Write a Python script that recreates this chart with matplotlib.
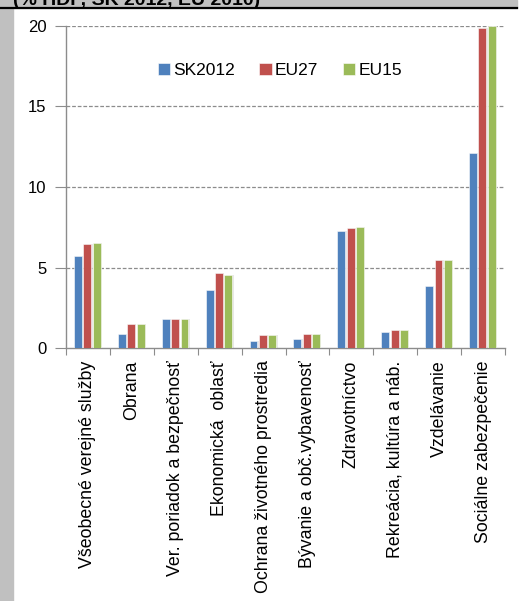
import numpy as np
import matplotlib
matplotlib.use("Agg")
import matplotlib.pyplot as plt
from matplotlib.patches import Rectangle

plt.rcParams["font.family"] = ["Liberation Sans", "DejaVu Sans"]

categories = [
    "Všeobecné verejné služby", "Obrana", "Ver. poriadok a bezpečnosť",
    "Ekonomická  oblasť", "Ochrana životného prostredia",
    "Bývanie a obč.vybavenosť", "Zdravotníctvo", "Rekreácia, kultúra a náb.",
    "Vzdelávanie", "Sociálne zabezpečenie",
]
series_names = ["SK2012", "EU27", "EU15"]
sk2012 = [5.7, 0.9, 1.8, 3.6, 0.45, 0.55, 7.25, 1.0, 3.85, 12.1]
eu27 = [6.45, 1.5, 1.8, 4.65, 0.8, 0.9, 7.45, 1.1, 5.45, 19.9]
eu15 = [6.5, 1.5, 1.8, 4.55, 0.8, 0.9, 7.5, 1.1, 5.45, 20.0]
colors = ["#4F81BD", "#C0504D", "#9BBB59"]
title = "(% HDP, SK 2012, EÚ 2010)"

W, H = 519, 601
fig = plt.figure(figsize=(W / 100, H / 100), dpi=100)

# gray frame: header band + left strip
fig.patches.append(Rectangle((0, 1 - 7.5 / H), 517 / W, 7.5 / H,
                             transform=fig.transFigure, color="#C0C0C0", zorder=0))
fig.patches.append(Rectangle((0, 0), 12.5 / W, 1, transform=fig.transFigure,
                             color="#C0C0C0", zorder=0))
fig.add_artist(plt.Line2D([0, 517 / W], [1 - 8 / H, 1 - 8 / H],
                          transform=fig.transFigure, color="black", lw=1.6))
# header title sits mostly above the top edge
fig.text(13 / W, 1 - 5 / H, title, fontsize=14, fontweight="bold",
         va="baseline", ha="left")

ax = fig.add_axes([66 / W, 1 - 348 / H, 439 / W, 322 / H])
x = np.arange(1, len(categories) + 1)
width = 0.18
offsets = [-0.23, -0.015, 0.2]
for vals, off, c, name in zip([sk2012, eu27, eu15], offsets, colors, series_names):
    # faint drop shadow behind each bar
    ax.bar(x + off + 0.03, vals, width, color="#d9d9d9", zorder=2, alpha=0.6)
    ax.bar(x + off, vals, width, color=c, edgecolor="white", linewidth=0.4,
           label=name, zorder=3)

ax.set_xlim(0.5, len(categories) + 0.5)
ax.set_ylim(0, 20)
ax.set_yticks([0, 5, 10, 15, 20])
for v in [5, 10, 15, 20]:
    ax.axhline(v, color="#8c8c8c", lw=0.9, ls=(0, (3, 1.5)), zorder=1)

ax.set_xticks(np.arange(0.5, len(categories) + 1, 1.0))
ax.set_xticklabels([])
ax.set_xticks(x, minor=True)
ax.set_xticklabels(categories, minor=True, rotation=90, fontsize=12.8,
                   va="top", ha="center")
ax.tick_params(axis="x", which="major", length=5, color="#8c8c8c", direction="out")
ax.tick_params(axis="x", which="minor", length=0, pad=9)
ax.tick_params(axis="y", length=8, color="#8c8c8c", labelsize=12, pad=6)

for s in ["top", "right"]:
    ax.spines[s].set_visible(False)
for s in ["left", "bottom"]:
    ax.spines[s].set_color("#8c8c8c")
    ax.spines[s].set_linewidth(1.0)

leg = ax.legend(loc="center", bbox_to_anchor=(0.487, 0.863), ncol=3, frameon=False,
                fontsize=12.5, handlelength=0.7, handleheight=0.7,
                handletextpad=0.2, columnspacing=1.4)

fig.savefig("out.png", dpi=100)
